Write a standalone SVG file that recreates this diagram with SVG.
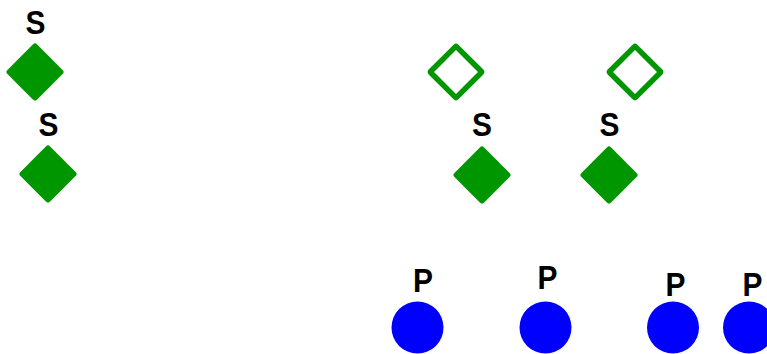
<svg xmlns="http://www.w3.org/2000/svg" width="767" height="354" viewBox="0 0 767 354">
<style>
.lbl{font-family:"Liberation Sans",Arial,sans-serif;font-weight:bold;font-size:34px;fill:#000;text-anchor:middle}
.fd{fill:#009600}
.od{fill:none;stroke:#009600;stroke-width:5.5;stroke-linejoin:round}
.p{fill:#0000ff}
</style>
<defs>
<rect id="fdia" x="-21" y="-21" width="42" height="42" rx="3" transform="rotate(45)"/>
<rect id="odia" x="-18.3" y="-18.3" width="36.6" height="36.6" rx="1" transform="rotate(45)"/>
</defs>
<g id="connectors"/>
<g id="n1"><text class="lbl" transform="translate(35.5,33.5) scale(0.88,1)">S</text><use href="#fdia" class="fd" transform="translate(35,72)"/></g>
<g id="n2"><text class="lbl" transform="translate(48.5,135.5) scale(0.88,1)">S</text><use href="#fdia" class="fd" transform="translate(48,174)"/></g>
<g id="n3"><use href="#odia" class="od" transform="translate(456,72)"/></g>
<g id="n4"><use href="#odia" class="od" transform="translate(635,72)"/></g>
<g id="n5"><text class="lbl" transform="translate(482,135.5) scale(0.88,1)">S</text><use href="#fdia" class="fd" transform="translate(482,175)"/></g>
<g id="n6"><text class="lbl" transform="translate(609.5,135.5) scale(0.88,1)">S</text><use href="#fdia" class="fd" transform="translate(609,175)"/></g>
<g id="n7"><text class="lbl" transform="translate(423,292) scale(0.88,1)">P</text><circle class="p" cx="417.5" cy="327.5" r="26"/></g>
<g id="n8"><text class="lbl" transform="translate(547.5,289) scale(0.88,1)">P</text><circle class="p" cx="545.5" cy="327.5" r="26"/></g>
<g id="n9"><text class="lbl" transform="translate(675.5,296) scale(0.88,1)">P</text><circle class="p" cx="673" cy="327.5" r="26"/></g>
<g id="n10"><text class="lbl" transform="translate(752.5,296) scale(0.88,1)">P</text><circle class="p" cx="749" cy="327.5" r="26"/></g>
</svg>
